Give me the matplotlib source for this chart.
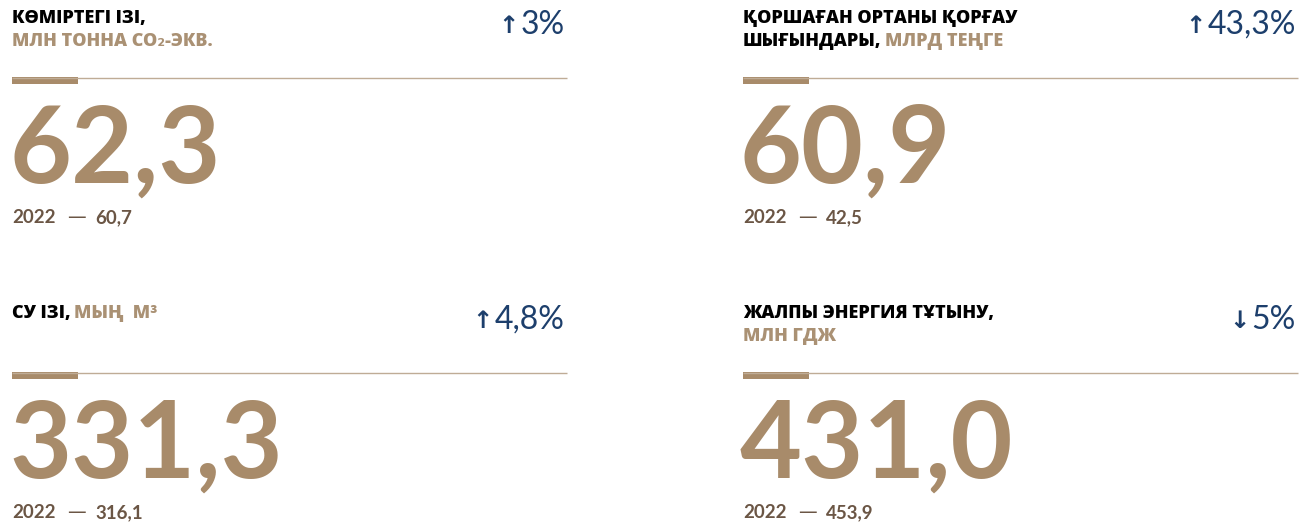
import matplotlib.pyplot as plt
from matplotlib.patches import Rectangle

# tile texts
title_main = ['КӨМІРТЕГІ ІЗІ,\n', 'ҚОРШАҒАН ОРТАНЫ ҚОРҒАУ\nШЫҒЫНДАРЫ,', 'СУ ІЗІ,', 'ЖАЛПЫ ЭНЕРГИЯ ТҰТЫНУ,\n']
title_unit = ['МЛН ТОННА CO₂-ЭКВ.', 'МЛРД ТЕҢГЕ', 'МЫҢ  М³', 'МЛН ГДЖ']
values_2023 = ['62,3', '60,9', '331,3', '431,0']
values_2022 = ['60,7', '42,5', '316,1', '453,9']
changes = ['↑3%', '↑43,3%', '↑4,8%', '↓5%']
prev_year = '2022'

GOLD = '#a88b6a'
UNIT = '#aa9174'
BROWN = '#6b5645'
NAVY = '#1d3f6c'
RULE = '#bfac96'

W, H = 1300, 524
fig = plt.figure(figsize=(W / 100, H / 100), dpi=100)
ax = fig.add_axes([0, 0, 1, 1])
ax.set_xlim(0, W)
ax.set_ylim(H, 0)
ax.axis('off')

title_font = dict(family=['Open Sans', 'DejaVu Sans'], weight='heavy', size=13)
year_font = dict(family=['Lato', 'DejaVu Sans'], weight='bold', size=13.5)
col_x = [12, 743]
row_y = [0, 295]
tile_w = 555

for i in range(4):
    x0 = col_x[i % 2]
    y0 = row_y[i // 2]

    # title, black part then gold unit on the same line
    lines = title_main[i].split('\n')
    for j, ln in enumerate(lines):
        yb = y0 + 23 + j * 23
        last = j == len(lines) - 1
        if ln:
            t = ax.text(x0, yb, ln, color='black', va='baseline', ha='left', **title_font)
        if last:
            if ln:
                ax.annotate(title_unit[i], xy=(1, yb), xycoords=(t, 'data'),
                            xytext=(2.5, 0), textcoords='offset points',
                            color=UNIT, va='baseline', ha='left', **title_font)
            else:
                ax.text(x0, yb, title_unit[i], color=UNIT, va='baseline', ha='left', **title_font)

    # change percentage with a heavy arrow
    arrow, pct = changes[i][0], changes[i][1:]
    tp = ax.text(x0 + tile_w - 2, y0 + 34, pct, color=NAVY, ha='right', va='baseline',
                 family=['Lato', 'DejaVu Sans'], size=23)
    ax.annotate(arrow, xy=(0, y0 + 33), xycoords=(tp, 'data'), xytext=(-1.5, 0),
                textcoords='offset points', color=NAVY, ha='right', va='baseline',
                family='DejaVu Sans', weight='bold', size=17.5)

    # rule with accent bar
    ax.plot([x0, x0 + tile_w], [y0 + 77.5, y0 + 77.5], color=RULE, lw=1, solid_capstyle='butt')
    ax.add_patch(Rectangle((x0, y0 + 77), 66, 7, color=GOLD, lw=0))

    # main value
    ax.text(x0 - 3, y0 + 183, values_2023[i], color=GOLD, ha='left', va='baseline',
            family=['Lato', 'DejaVu Sans'], weight='bold', size=77)

    # previous year: year, long thin dash, value
    yb = y0 + 223
    ty = ax.text(x0, yb, prev_year, color=BROWN, ha='left', va='baseline', **year_font)
    td = ax.annotate('—', xy=(1, yb), xycoords=(ty, 'data'), xytext=(8.5, 0),
                     textcoords='offset points', color=BROWN, ha='left', va='baseline',
                     family='DejaVu Sans', size=13.5)
    ax.annotate(values_2022[i], xy=(1, yb), xycoords=(td, 'data'), xytext=(6.5, 0),
                textcoords='offset points', color=BROWN, ha='left', va='baseline', **year_font)

fig.savefig('out.png', dpi=100)
